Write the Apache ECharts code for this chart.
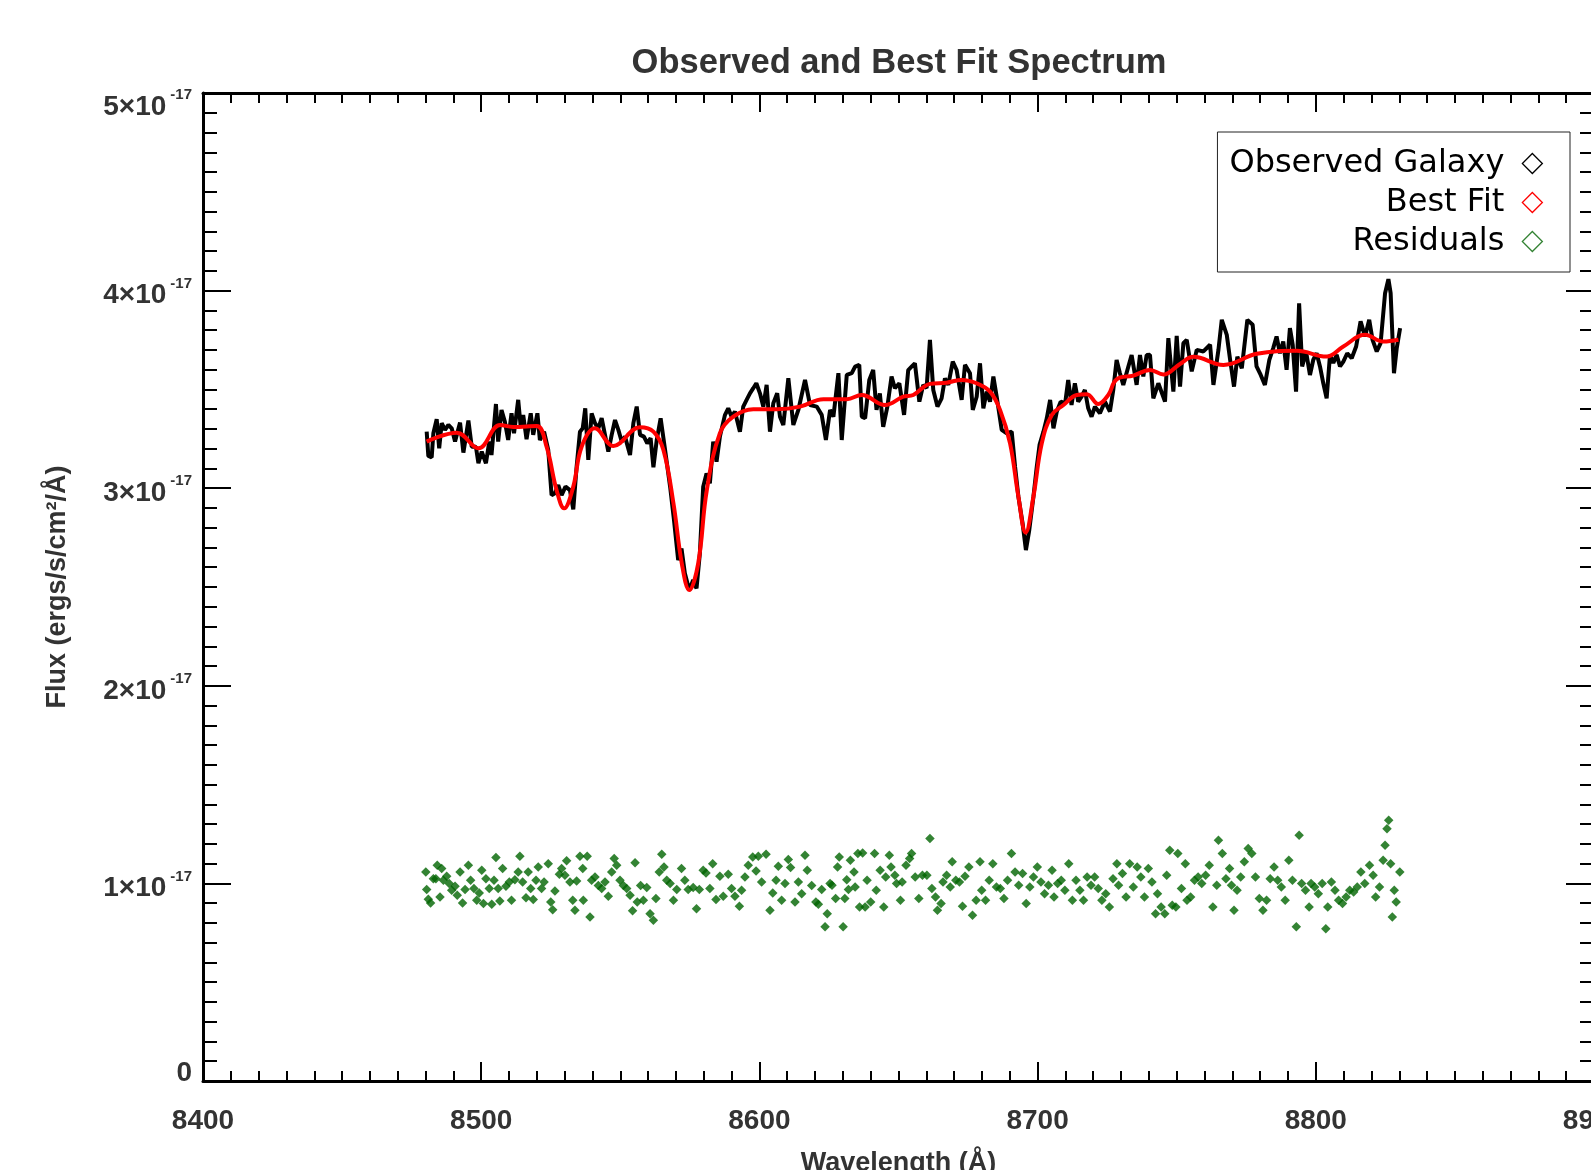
<!DOCTYPE html>
<html>
<head>
<meta charset="utf-8">
<title>Observed and Best Fit Spectrum</title>
<script src="https://cdn.jsdelivr.net/npm/echarts/dist/echarts.min.js"></script>
<style>
  html, body { margin: 0; padding: 0; background: #fff; }
  #chart { width: 1591px; height: 1170px; }
</style>
</head>
<body>
<div id="chart"></div>
<script>
// flux values are in units of 1e-17 ergs/s/cm^2/A
const yTicks = [0, 1, 2, 3, 4, 5]

// observed galaxy spectrum [wavelength, flux]
const observed = [
  [8480.4, 3.286], [8481.0, 3.163], [8482.2, 3.156], [8482.8, 3.278], [8484.0, 3.349], [8484.9, 3.202],
  [8485.8, 3.329], [8487.0, 3.295], [8488.2, 3.320], [8489.4, 3.303], [8490.6, 3.236], [8492.4, 3.332],
  [8493.6, 3.180], [8495.4, 3.342], [8496.6, 3.210], [8498.1, 3.210], [8499.0, 3.126], [8500.2, 3.185],
  [8501.7, 3.126], [8502.9, 3.236], [8503.7, 3.168], [8505.3, 3.426], [8506.1, 3.236], [8507.3, 3.396],
  [8508.5, 3.337], [8509.7, 3.244], [8510.9, 3.379], [8511.8, 3.278], [8513.3, 3.447], [8514.2, 3.312],
  [8515.1, 3.370], [8516.3, 3.248], [8517.8, 3.379], [8518.7, 3.270], [8520.2, 3.379], [8521.1, 3.244],
  [8522.6, 3.286], [8524.1, 3.193], [8525.3, 2.965], [8526.5, 2.974], [8527.7, 3.016], [8528.9, 2.965],
  [8530.3, 3.008], [8531.9, 2.990], [8533.1, 2.893], [8534.3, 3.109], [8535.5, 3.286], [8536.5, 3.303],
  [8537.4, 3.404], [8538.5, 3.143], [8539.7, 3.379], [8540.9, 3.329], [8542.1, 3.303], [8543.3, 3.354],
  [8544.5, 3.270], [8545.7, 3.185], [8546.9, 3.270], [8548.1, 3.345], [8549.3, 3.295], [8550.5, 3.236],
  [8551.7, 3.261], [8553.5, 3.168], [8554.7, 3.329], [8555.9, 3.413], [8557.1, 3.270], [8558.5, 3.261],
  [8559.7, 3.227], [8560.9, 3.253], [8561.9, 3.106], [8563.1, 3.244], [8564.5, 3.354], [8566.1, 3.193],
  [8567.9, 3.008], [8569.3, 2.839], [8570.8, 2.636], [8572.0, 2.695], [8573.2, 2.569], [8574.8, 2.484],
  [8576.2, 2.535], [8577.4, 2.493], [8578.6, 2.670], [8579.8, 3.008], [8581.0, 3.075], [8582.2, 3.025],
  [8583.4, 3.236], [8584.6, 3.134], [8585.8, 3.261], [8587.6, 3.370], [8588.8, 3.404], [8590.0, 3.362],
  [8591.2, 3.388], [8593.0, 3.286], [8594.2, 3.413], [8595.4, 3.447], [8596.6, 3.480], [8597.8, 3.506],
  [8598.9, 3.531], [8600.2, 3.480], [8601.4, 3.413], [8602.6, 3.523], [8603.8, 3.286], [8605.0, 3.430],
  [8606.4, 3.480], [8607.4, 3.362], [8608.6, 3.320], [8610.4, 3.556], [8612.2, 3.320], [8614.0, 3.396],
  [8616.4, 3.548], [8618.2, 3.421], [8620.6, 3.413], [8622.4, 3.371], [8623.9, 3.244], [8625.4, 3.396],
  [8626.6, 3.362], [8628.4, 3.582], [8629.6, 3.244], [8631.4, 3.573], [8633.2, 3.582], [8634.4, 3.615],
  [8635.9, 3.624], [8636.8, 3.362], [8638.0, 3.354], [8639.5, 3.548], [8640.9, 3.598], [8642.1, 3.396],
  [8643.3, 3.480], [8644.5, 3.311], [8646.0, 3.413], [8647.5, 3.565], [8648.7, 3.506], [8650.3, 3.531],
  [8652.0, 3.371], [8653.5, 3.598], [8654.7, 3.615], [8655.9, 3.632], [8657.5, 3.438], [8658.9, 3.523],
  [8660.1, 3.506], [8661.3, 3.750], [8662.5, 3.497], [8664.0, 3.413], [8665.5, 3.455], [8666.7, 3.556],
  [8667.9, 3.523], [8669.5, 3.641], [8670.9, 3.598], [8672.7, 3.447], [8673.9, 3.624], [8675.7, 3.582],
  [8676.7, 3.396], [8678.1, 3.463], [8679.3, 3.632], [8680.5, 3.404], [8681.7, 3.489], [8682.9, 3.438],
  [8684.1, 3.565], [8685.3, 3.463], [8687.1, 3.295], [8688.9, 3.278], [8690.7, 3.286], [8691.9, 3.109],
  [8693.1, 2.957], [8694.6, 2.822], [8695.8, 2.687], [8697.0, 2.788], [8698.5, 2.957], [8699.7, 3.109],
  [8700.7, 3.219], [8702.1, 3.286], [8703.3, 3.354], [8704.5, 3.447], [8705.7, 3.303], [8706.9, 3.388],
  [8708.3, 3.438], [8709.9, 3.430], [8711.0, 3.548], [8712.2, 3.421], [8713.4, 3.531], [8714.6, 3.438],
  [8715.8, 3.463], [8717.0, 3.497], [8718.2, 3.404], [8719.4, 3.362], [8720.6, 3.413], [8722.4, 3.379],
  [8724.2, 3.438], [8726.0, 3.388], [8727.2, 3.497], [8728.4, 3.649], [8729.6, 3.582], [8730.8, 3.523],
  [8732.6, 3.615], [8733.8, 3.674], [8735.6, 3.523], [8736.8, 3.674], [8738.0, 3.565], [8739.2, 3.674],
  [8740.4, 3.675], [8741.6, 3.455], [8743.4, 3.531], [8745.8, 3.438], [8747.0, 3.759], [8748.8, 3.489],
  [8750.0, 3.771], [8751.2, 3.514], [8752.4, 3.734], [8753.6, 3.751], [8755.4, 3.591], [8757.2, 3.700],
  [8759.6, 3.692], [8762.0, 3.726], [8763.2, 3.523], [8765.0, 3.700], [8766.2, 3.852], [8768.0, 3.776],
  [8769.2, 3.650], [8770.6, 3.514], [8771.8, 3.666], [8773.4, 3.607], [8775.4, 3.852], [8777.3, 3.827],
  [8778.7, 3.616], [8780.2, 3.573], [8781.7, 3.523], [8783.3, 3.650], [8784.7, 3.709], [8785.9, 3.768],
  [8787.1, 3.683], [8788.3, 3.742], [8789.5, 3.599], [8790.7, 3.810], [8791.7, 3.726], [8792.9, 3.489],
  [8794.0, 3.936], [8795.1, 3.616], [8796.5, 3.692], [8797.9, 3.573], [8799.1, 3.650], [8800.3, 3.683],
  [8801.5, 3.616], [8802.7, 3.531], [8803.9, 3.455], [8805.1, 3.675], [8806.3, 3.633], [8807.5, 3.675],
  [8808.7, 3.616], [8809.9, 3.641], [8811.3, 3.683], [8812.9, 3.658], [8814.5, 3.717], [8816.1, 3.844],
  [8817.7, 3.768], [8819.2, 3.852], [8820.4, 3.751], [8821.9, 3.692], [8823.3, 3.734], [8824.9, 3.987],
  [8826.1, 4.058], [8826.9, 3.987], [8828.1, 3.582], [8829.1, 3.709], [8830.3, 3.810]
]

// best fit model [wavelength, flux]
const bestFit = [
  [8480.4, 3.236], [8491.2, 3.281], [8499.0, 3.202], [8506.8, 3.320], [8511.5, 3.310], [8519.9, 3.315],
  [8523.5, 3.210], [8527.1, 2.990], [8529.8, 2.898], [8533.1, 3.008], [8536.1, 3.210], [8540.9, 3.303],
  [8547.5, 3.214], [8557.1, 3.308], [8561.9, 3.286], [8565.5, 3.193], [8569.1, 2.924], [8572.1, 2.620],
  [8574.8, 2.485], [8578.0, 2.620], [8581.1, 2.990], [8585.8, 3.278], [8590.6, 3.362], [8597.8, 3.400],
  [8606.2, 3.400], [8614.6, 3.413], [8623.0, 3.450], [8631.4, 3.450], [8636.8, 3.472], [8645.2, 3.421],
  [8651.7, 3.463], [8655.3, 3.472], [8661.3, 3.528], [8667.3, 3.534], [8672.7, 3.548], [8678.1, 3.531],
  [8682.9, 3.489], [8686.5, 3.396], [8690.1, 3.227], [8693.1, 2.957], [8695.7, 2.775], [8698.5, 2.957],
  [8701.5, 3.227], [8705.1, 3.371], [8709.3, 3.421], [8714.1, 3.472], [8717.7, 3.476], [8721.8, 3.426],
  [8725.4, 3.472], [8728.4, 3.551], [8734.4, 3.570], [8740.4, 3.598], [8745.2, 3.575], [8751.2, 3.629],
  [8756.0, 3.665], [8766.8, 3.624], [8778.8, 3.680], [8793.1, 3.695], [8803.9, 3.666], [8809.9, 3.717],
  [8817.7, 3.776], [8824.3, 3.742], [8829.7, 3.751]
]

// residuals (observed - fit, offset to 1e-17) [wavelength, flux]
const residuals = [
  [8480.1, 1.058], [8480.4, 0.969], [8481.0, 0.920], [8481.8, 0.901], [8482.8, 1.024], [8483.7, 1.024],
  [8484.2, 1.092], [8485.2, 0.931], [8485.8, 1.075], [8486.4, 1.016], [8487.6, 1.036], [8488.5, 0.999],
  [8489.4, 0.965], [8490.6, 0.985], [8491.4, 0.940], [8492.4, 1.058], [8493.3, 0.901], [8494.2, 0.969],
  [8495.4, 1.092], [8496.2, 1.016], [8497.4, 0.974], [8498.4, 0.915], [8499.3, 0.952], [8500.2, 1.067],
  [8500.8, 0.898], [8501.7, 1.024], [8502.9, 0.974], [8503.8, 0.894], [8504.6, 1.016], [8505.3, 1.131],
  [8506.1, 0.974], [8506.7, 0.911], [8507.7, 1.075], [8508.9, 0.985], [8510.1, 1.007], [8510.9, 0.915],
  [8512.1, 1.019], [8513.3, 1.058], [8513.9, 1.137], [8514.9, 1.007], [8516.1, 0.928], [8516.9, 1.058],
  [8517.8, 0.974], [8518.7, 0.918], [8519.7, 1.016], [8520.5, 1.083], [8521.7, 0.974], [8522.6, 1.007],
  [8524.1, 1.100], [8525.0, 0.906], [8525.7, 0.867], [8526.5, 0.962], [8528.1, 1.046], [8528.9, 1.075],
  [8530.1, 1.041], [8530.7, 1.114], [8531.9, 1.007], [8532.9, 0.915], [8533.7, 0.864], [8534.3, 1.012],
  [8535.5, 1.137], [8536.5, 1.075], [8536.7, 0.915], [8538.1, 1.137], [8539.1, 0.830], [8539.7, 1.016],
  [8540.9, 1.033], [8542.1, 0.990], [8543.3, 0.974], [8544.5, 1.007], [8545.7, 0.935], [8546.9, 1.058],
  [8547.8, 1.126], [8548.7, 1.092], [8549.9, 1.016], [8551.1, 0.990], [8552.3, 0.974], [8553.5, 0.940],
  [8554.4, 0.861], [8555.3, 1.104], [8556.1, 0.906], [8557.3, 0.990], [8558.3, 0.915], [8559.5, 0.979],
  [8560.7, 0.847], [8561.9, 0.813], [8562.8, 0.923], [8564.0, 1.058], [8564.9, 1.148], [8565.7, 1.083],
  [8566.7, 1.016], [8567.9, 0.999], [8569.1, 0.915], [8570.3, 0.969], [8572.0, 1.075], [8573.2, 1.016],
  [8574.4, 0.969], [8576.2, 0.979], [8577.4, 0.872], [8578.4, 0.969], [8579.8, 1.067], [8580.8, 1.053],
  [8582.2, 0.974], [8583.2, 1.100], [8584.4, 0.918], [8585.8, 1.036], [8587.0, 0.935], [8588.8, 1.046],
  [8590.0, 0.974], [8591.2, 0.935], [8592.8, 0.884], [8593.6, 0.965], [8594.8, 1.033], [8596.0, 1.092],
  [8597.6, 1.134], [8598.8, 1.063], [8599.6, 1.137], [8600.8, 1.007], [8602.4, 1.148], [8603.8, 0.864],
  [8604.8, 0.952], [8606.0, 1.016], [8606.8, 1.087], [8608.0, 0.915], [8609.2, 0.999], [8610.4, 1.121],
  [8611.2, 1.080], [8612.8, 0.906], [8614.0, 1.007], [8615.2, 0.948], [8616.4, 1.142], [8617.2, 1.067],
  [8618.8, 0.990], [8620.3, 0.906], [8621.2, 0.894], [8622.4, 0.969], [8623.6, 0.780], [8624.4, 0.847],
  [8625.4, 0.999], [8626.1, 0.991], [8627.4, 0.923], [8628.1, 1.083], [8628.7, 1.134], [8630.1, 0.780],
  [8630.7, 0.923], [8631.4, 1.019], [8632.0, 0.969], [8632.7, 1.117], [8634.0, 1.058], [8634.4, 0.982],
  [8635.4, 1.151], [8636.0, 0.881], [8637.1, 1.154], [8638.0, 0.881], [8638.7, 1.016], [8640.0, 0.906],
  [8641.4, 1.151], [8642.0, 0.965], [8643.4, 1.067], [8644.7, 0.881], [8645.4, 1.033], [8646.7, 1.142],
  [8647.3, 1.083], [8648.7, 1.041], [8649.3, 0.999], [8650.7, 0.915], [8651.3, 1.007], [8652.7, 1.092],
  [8654.0, 1.126], [8654.7, 1.151], [8656.0, 1.033], [8657.3, 0.923], [8658.6, 1.041], [8660.2, 1.041],
  [8661.3, 1.227], [8662.0, 0.974], [8663.3, 0.931], [8664.0, 0.864], [8665.3, 0.898], [8666.0, 1.007],
  [8667.3, 1.041], [8668.6, 0.982], [8669.3, 1.109], [8670.6, 1.016], [8671.9, 1.007], [8673.0, 0.884],
  [8673.9, 1.036], [8675.3, 1.083], [8676.6, 0.839], [8677.9, 0.915], [8679.3, 1.109], [8679.9, 0.965],
  [8681.3, 0.915], [8682.6, 1.016], [8683.9, 1.100], [8685.2, 0.982], [8686.6, 0.974], [8687.9, 0.923],
  [8689.2, 1.016], [8690.6, 1.151], [8691.9, 1.058], [8693.2, 0.991], [8694.6, 1.050], [8695.9, 0.898],
  [8697.2, 0.982], [8698.5, 1.033], [8699.9, 1.083], [8701.2, 1.007], [8702.5, 0.948], [8703.9, 0.991],
  [8705.2, 1.067], [8705.9, 0.931], [8707.2, 0.999], [8708.5, 1.016], [8709.8, 0.965], [8711.2, 1.100],
  [8712.5, 0.915], [8713.8, 1.016], [8715.2, 0.965], [8716.5, 0.915], [8717.8, 1.033], [8719.2, 0.991],
  [8720.5, 1.033], [8721.8, 0.974], [8723.1, 0.915], [8724.5, 0.948], [8725.8, 0.881], [8727.1, 1.024],
  [8728.5, 1.100], [8729.1, 0.991], [8730.5, 1.050], [8731.8, 0.931], [8733.1, 1.100], [8734.4, 0.982],
  [8735.8, 1.083], [8737.1, 1.033], [8738.4, 0.931], [8739.8, 1.075], [8741.1, 1.007], [8742.4, 0.847],
  [8743.1, 0.948], [8744.4, 0.881], [8745.7, 0.847], [8746.4, 1.041], [8747.5, 1.168], [8748.4, 0.889],
  [8749.7, 0.881], [8750.4, 1.151], [8751.7, 0.974], [8753.1, 1.100], [8753.7, 0.915], [8755.0, 0.931],
  [8756.4, 1.016], [8757.7, 1.033], [8759.0, 0.999], [8760.4, 1.041], [8761.7, 1.092], [8763.0, 0.881],
  [8764.4, 0.991], [8765.0, 1.218], [8766.4, 1.151], [8767.7, 1.024], [8769.0, 1.075], [8769.7, 0.991],
  [8770.6, 0.864], [8771.7, 0.965], [8773.0, 1.033], [8774.3, 1.109], [8775.7, 1.176], [8777.0, 1.151],
  [8778.3, 1.033], [8779.7, 0.923], [8781.0, 0.864], [8782.3, 0.915], [8783.6, 1.024], [8785.0, 1.083],
  [8786.3, 1.016], [8787.6, 0.982], [8789.0, 0.915], [8790.3, 1.117], [8791.6, 1.016], [8793.0, 0.780],
  [8794.0, 1.244], [8794.9, 0.999], [8796.3, 0.965], [8797.6, 0.881], [8798.3, 0.999], [8799.6, 0.982],
  [8800.9, 0.948], [8802.3, 0.999], [8803.6, 0.771], [8804.3, 0.881], [8805.6, 1.007], [8806.9, 0.965],
  [8808.2, 0.915], [8809.6, 0.898], [8810.9, 0.931], [8812.2, 0.965], [8813.6, 0.957], [8814.9, 0.982],
  [8816.2, 1.058], [8817.6, 0.999], [8819.3, 1.092], [8820.6, 1.041], [8821.5, 0.931], [8822.9, 0.982],
  [8824.2, 1.117], [8824.9, 1.193], [8825.6, 1.277], [8826.2, 1.320], [8826.9, 1.100], [8827.5, 0.830],
  [8828.2, 0.965], [8828.9, 0.906], [8830.2, 1.058]
]

const fontFamily = '"Liberation Sans", Arial, Helvetica, sans-serif'
const labelColor = '#333'

let chart = echarts.init(document.getElementById('chart'), null, { renderer: 'canvas' })

// shared look of the four frame axes (ticks point inwards)
let xFrame = {
  type: 'value',
  min: 8400,
  max: 8900,
  interval: 100,
  splitLine: { show: false },
  axisLine: { onZero: false, lineStyle: { color: '#000', width: 3 } },
  axisTick: { inside: true, length: 19, lineStyle: { color: '#000', width: 2 } },
  minorTick: { show: true, splitNumber: 10, length: 10, lineStyle: { color: '#000', width: 2 } }
}
let yFrame = {
  type: 'value',
  min: yTicks[0],
  max: yTicks[yTicks.length - 1],
  interval: 1,
  splitLine: { show: false },
  axisLine: { onZero: false, lineStyle: { color: '#000', width: 3 } },
  axisTick: { inside: true, length: 28, lineStyle: { color: '#000', width: 2 } },
  minorTick: { show: true, splitNumber: 10, length: 14, lineStyle: { color: '#000', width: 2 } }
}

let labelBase = { fontFamily, fontWeight: 'bold', color: labelColor }

let option = {
  animation: false,
  backgroundColor: '#fff',
  title: {
    text: 'Observed and Best Fit Spectrum',
    left: 899,
    top: 46,
    padding: 0,
    textAlign: 'center',
    textStyle: { fontFamily, fontSize: 34.5, fontWeight: 'bold', color: labelColor }
  },
  legend: {
    orient: 'vertical',
    align: 'right',
    right: 21,
    top: 132,
    padding: [15.5, 27, 14.5, 12],
    borderColor: '#222',
    borderWidth: 1,
    itemWidth: 20,
    itemHeight: 20,
    itemGap: 7,
    selectedMode: false,
    textStyle: { fontFamily: '"DejaVu Sans", sans-serif', fontSize: 32, color: '#000', lineHeight: 20, padding: [0, 13, 0, 0] },
    data: [
      { name: 'Observed Galaxy', icon: 'diamond', itemStyle: { color: 'rgba(0,0,0,0)', borderColor: '#000', borderWidth: 1.3 } },
      { name: 'Best Fit', icon: 'diamond', itemStyle: { color: 'rgba(0,0,0,0)', borderColor: '#ff0000', borderWidth: 1.3 } },
      { name: 'Residuals', icon: 'diamond', itemStyle: { color: 'rgba(0,0,0,0)', borderColor: '#006400', borderWidth: 1.3 } }
    ]
  },
  grid: { left: 203, right: -3, top: 93, bottom: 89, outerBoundsMode: 'none' },
  xAxis: [
    Object.assign({}, xFrame, {
      position: 'bottom',
      name: 'Wavelength (Å)',
      nameLocation: 'middle',
      nameGap: 69,
      nameTextStyle: { fontFamily, fontSize: 27, fontWeight: 'bold', color: labelColor },
      axisLabel: {
        margin: 27, fontFamily, fontSize: 28, fontWeight: 'bold', color: labelColor, lineHeight: 27,
        formatter: function (v) { return String(v) }
      }
    }),
    Object.assign({}, xFrame, { position: 'top', axisLabel: { show: false } })
  ],
  yAxis: [
    Object.assign({}, yFrame, {
      position: 'left',
      name: 'Flux (ergs/s/cm²/Å)',
      nameLocation: 'middle',
      nameGap: 132,
      nameTextStyle: { fontFamily, fontSize: 27, fontWeight: 'bold', color: labelColor },
      axisLabel: {
        margin: 11,
        formatter: function (v) {
          if (v === 0) return '{z|0}'
          // the top label sits a little lower in the original plot
          if (v === 5) return '{bt|' + v + '×10}{st|-17}'
          return '{b|' + v + '×10}{s|-17}'
        },
        // base and exponent boxes have equal heights, padding sets the raise
        rich: {
          b: Object.assign({ fontSize: 28, lineHeight: 27, padding: [10, 0, 0, 0] }, labelBase),
          s: Object.assign({ fontSize: 15, lineHeight: 13, padding: [5, 0, 19, 4] }, labelBase),
          bt: Object.assign({ fontSize: 28, lineHeight: 27, padding: [28, 0, 0, 0] }, labelBase),
          st: Object.assign({ fontSize: 15, lineHeight: 13, padding: [23, 0, 19, 4] }, labelBase),
          z: Object.assign({ fontSize: 28, lineHeight: 27, padding: [0, 0, 16, 0] }, labelBase)
        }
      }
    }),
    Object.assign({}, yFrame, { position: 'right', axisLabel: { show: false } })
  ],
  series: [
    {
      name: 'Residuals',
      type: 'scatter',
      data: residuals,
      symbol: 'diamond',
      symbolSize: 9.5,
      itemStyle: { color: '#006400' },
      z: 2
    },
    {
      name: 'Observed Galaxy',
      type: 'line',
      data: observed,
      showSymbol: false,
      lineStyle: { color: '#000', width: 4 },
      itemStyle: { color: '#000' },
      z: 3
    },
    {
      name: 'Best Fit',
      type: 'line',
      data: bestFit,
      showSymbol: false,
      smooth: 0.4,
      lineStyle: { color: '#ff0000', width: 4 },
      itemStyle: { color: '#ff0000' },
      z: 4
    }
  ]
}

chart.setOption(option)
</script>
</body>
</html>
